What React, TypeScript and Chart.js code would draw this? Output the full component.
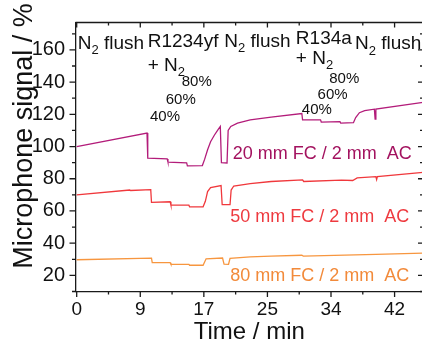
import React, { useEffect, useRef } from "react";
import { Chart, registerables } from "chart.js";

Chart.register(...registerables);

// ---- data (time in min, microphone signal in %) ----
const timeFC20 = [0, 9.4, 9.5, 12.1, 12.2, 14.7, 14.8, 16.8, 17.1, 17.5, 17.9, 18.4, 18.9, 19.2, 19.35, 20.1, 20.25, 20.6, 21.5, 23.2, 26, 30.1, 30.2, 32.6, 32.7, 35.2, 35.3, 37.0, 37.3, 37.8, 38.5, 39.8, 39.9, 40.0, 46.3];
const signalFC20 = [100, 108.4, 92.8, 92.3, 90.3, 89.8, 88, 88.2, 92, 98, 103, 107, 110.5, 112.5, 90, 89.8, 110, 112.5, 114.5, 116.5, 118.2, 120.5, 116.5, 116.6, 115.2, 115.4, 114.5, 114.8, 118, 121, 122.3, 123.2, 117, 123.3, 127.4];

const timeFC50 = [0, 7.1, 7.2, 9.9, 10.0, 12.5, 12.6, 15.0, 15.1, 16.9, 17.2, 17.5, 17.9, 19.3, 19.45, 20.5, 20.65, 21.0, 23.2, 26, 30.2, 30.35, 35.4, 36.9, 37.5, 40.0, 40.1, 40.2, 46.3];
const signalFC50 = [70, 73, 72.7, 73.2, 65.3, 65.7, 63.6, 63.6, 62.5, 62.6, 66, 72, 74.5, 75.8, 64, 63.9, 73, 75.5, 77, 78.3, 79.3, 78.3, 79.1, 78.9, 80.5, 81.3, 79.5, 81.3, 83.9];

const timeFC80 = [0, 10.0, 10.1, 12.5, 12.6, 15.0, 15.1, 16.9, 17.3, 19.5, 19.7, 20.3, 20.5, 23.2, 26, 30.1, 30.3, 40, 46.3];
const signalFC80 = [29.7, 30.7, 27.9, 27.9, 26.9, 26.9, 26.3, 26.3, 30.3, 30.8, 27, 26.9, 30.6, 31.5, 31.9, 32.5, 32.0, 33, 33.8];

const seriesNames = ["20 mm FC / 2 mm  AC", "50 mm FC / 2 mm  AC", "80 mm FC / 2 mm  AC"];

const xTickValues = [0, 8.5, 17, 25.5, 34, 42.5];
const xTickLabels = ["0", "9", "17", "25", "34", "42"];
const xMinorTicks = [4.25, 12.75, 21.25, 29.75, 38.25];
const yTickValues = [20, 40, 60, 80, 100, 120, 140, 160];
const yMinorTicks = [10, 30, 50, 70, 90, 110, 130, 150, 170];

const xTitle = "Time / min";
const yTitle = "Microphone signal / %";

// ---- styles ----
const FONT = "'Liberation Sans', Arial, sans-serif";
const axisColor = "#1a1a1a";
const lineColors = ["#b31c7a", "#f0383c", "#f7963f"];
const labelColors = ["#a3125f", "#ee3a3f", "#f28a3a"];

type Seg = { text: string; sub?: boolean };
type Note = { x: number; y: number; size: number; color: string; segs: Seg[] };

const N2 = (rest: string): Seg[] => [{ text: "N" }, { text: "2", sub: true }, { text: rest }];

const notes: Note[] = [
  { x: 0.13, y: 160.7, size: 19, color: "#111", segs: N2(" flush") },
  { x: 9.49, y: 161.8, size: 19, color: "#111", segs: [{ text: "R1234yf" }] },
  { x: 9.49, y: 147.2, size: 19, color: "#111", segs: [{ text: "+ N" }, { text: "2", sub: true }] },
  { x: 14.04, y: 137.6, size: 15, color: "#111", segs: [{ text: "80%" }] },
  { x: 11.9, y: 126.3, size: 15, color: "#111", segs: [{ text: "60%" }] },
  { x: 9.8, y: 115.9, size: 15, color: "#111", segs: [{ text: "40%" }] },
  { x: 19.73, y: 162.0, size: 19, color: "#111", segs: N2(" flush") },
  { x: 29.3, y: 163.4, size: 19, color: "#111", segs: [{ text: "R134a" }] },
  { x: 29.3, y: 151.5, size: 19, color: "#111", segs: [{ text: "+ N" }, { text: "2", sub: true }] },
  { x: 33.77, y: 139.2, size: 15, color: "#111", segs: [{ text: "80%" }] },
  { x: 32.2, y: 129.7, size: 15, color: "#111", segs: [{ text: "60%" }] },
  { x: 30.1, y: 120.2, size: 15, color: "#111", segs: [{ text: "40%" }] },
  { x: 37.2, y: 160.4, size: 19, color: "#111", segs: N2(" flush") },
  { x: 20.86, y: 92.2, size: 18, color: labelColors[0], segs: [{ text: seriesNames[0] }] },
  { x: 20.53, y: 53.0, size: 18, color: labelColors[1], segs: [{ text: seriesNames[1] }] },
  { x: 20.53, y: 16.4, size: 18, color: labelColors[2], segs: [{ text: seriesNames[2] }] },
];

const framePlugin = {
  id: "frame",
  afterDraw(chart: any) {
    const { ctx, chartArea: a, scales } = chart;
    const xs = scales.x;
    const ys = scales.y;
    ctx.save();
    ctx.strokeStyle = axisColor;
    ctx.lineWidth = 1.3;
    ctx.beginPath();
    ctx.moveTo(a.left, a.top);
    ctx.lineTo(a.right, a.top);
    ctx.lineTo(a.right, a.bottom);
    const tick = (x1: number, y1: number, x2: number, y2: number) => {
      ctx.moveTo(x1, y1);
      ctx.lineTo(x2, y2);
    };
    xTickValues.forEach((v) => {
      const p = xs.getPixelForValue(v);
      tick(p, a.bottom, p, a.bottom + 5.5);
      tick(p, a.top, p, a.top + 5);
    });
    xMinorTicks.forEach((v) => {
      const p = xs.getPixelForValue(v);
      tick(p, a.bottom, p, a.bottom + 3);
      tick(p, a.top, p, a.top + 3);
    });
    yTickValues.forEach((v) => {
      const p = ys.getPixelForValue(v);
      tick(a.left - 6, p, a.left, p);
      tick(a.right - 5, p, a.right, p);
    });
    yMinorTicks.forEach((v) => {
      const p = ys.getPixelForValue(v);
      tick(a.left - 3.5, p, a.left, p);
      tick(a.right - 3, p, a.right, p);
    });
    ctx.stroke();

    // annotations
    ctx.textBaseline = "alphabetic";
    ctx.textAlign = "left";
    notes.forEach((n) => {
      let px = xs.getPixelForValue(n.x);
      const py = ys.getPixelForValue(n.y);
      ctx.fillStyle = n.color;
      n.segs.forEach((s) => {
        const size = s.sub ? Math.round(n.size * 0.7) : n.size;
        ctx.font = `${size}px ${FONT}`;
        ctx.fillText(s.text, px, py + (s.sub ? n.size * 0.3 : 0));
        px += ctx.measureText(s.text).width;
      });
    });

    // axis titles
    ctx.fillStyle = "#111";
    ctx.font = `24px ${FONT}`;
    ctx.textAlign = "center";
    ctx.fillText(xTitle, (a.left + a.right) / 2, 339);
    ctx.save();
    ctx.translate(32, 136);
    ctx.rotate(-Math.PI / 2);
    ctx.font = `27px ${FONT}`;
    ctx.fillText(yTitle, 0, 0);
    ctx.restore();
    ctx.restore();
  },
};

export default function App() {
  const ref = useRef<HTMLCanvasElement | null>(null);
  useEffect(() => {
    if (!ref.current) return;
    const mk = (t: number[], v: number[]) => t.map((x, i) => ({ x, y: v[i] }));
    const chart = new Chart(ref.current, {
      type: "line",
      data: {
        datasets: [
          { label: seriesNames[0], data: mk(timeFC20, signalFC20), borderColor: lineColors[0], borderWidth: 1.3, pointRadius: 0, tension: 0, fill: false },
          { label: seriesNames[1], data: mk(timeFC50, signalFC50), borderColor: lineColors[1], borderWidth: 1.3, pointRadius: 0, tension: 0, fill: false },
          { label: seriesNames[2], data: mk(timeFC80, signalFC80), borderColor: lineColors[2], borderWidth: 1.3, pointRadius: 0, tension: 0, fill: false },
        ],
      },
      options: {
        responsive: false,
        animation: false,
        devicePixelRatio: 1,
        layout: { padding: { left: 0, right: 2, top: 10, bottom: 0 } },
        plugins: { legend: { display: false }, tooltip: { enabled: false } },
        scales: {
          x: {
            type: "linear",
            min: -0.16,
            max: 46.3,
            afterBuildTicks: (s: any) => {
              s.ticks = xTickValues.map((v) => ({ value: v }));
            },
            afterFit: (s: any) => {
              s.height = 50.5;
            },
            grid: { display: false, drawTicks: false },
            border: { display: true, color: axisColor, width: 1.3 },
            ticks: {
              autoSkip: false,
              maxRotation: 0,
              padding: 7,
              color: "#111",
              font: { family: FONT, size: 19 },
              callback: (v: any) => {
                const i = xTickValues.indexOf(Number(v));
                return i >= 0 ? xTickLabels[i] : "";
              },
            },
          },
          y: {
            type: "linear",
            min: 10,
            max: 177,
            afterBuildTicks: (s: any) => {
              s.ticks = yTickValues.map((v) => ({ value: v }));
            },
            afterFit: (s: any) => {
              s.width = 75.5;
            },
            grid: { display: false, drawTicks: false },
            border: { display: true, color: axisColor, width: 1.3 },
            ticks: {
              padding: 10.5,
              color: "#111",
              font: { family: FONT, size: 20 },
              callback: (v: any) => String(v),
            },
          },
        },
      },
      plugins: [framePlugin],
    });
    return () => chart.destroy();
  }, []);
  return (
    <div style={{ position: "fixed", left: 0, top: 0, width: 422, height: 342, overflow: "hidden", background: "#fff" }}>
      <canvas ref={ref} width={425} height={342} style={{ display: "block", width: 425, height: 342 }} />
    </div>
  );
}
